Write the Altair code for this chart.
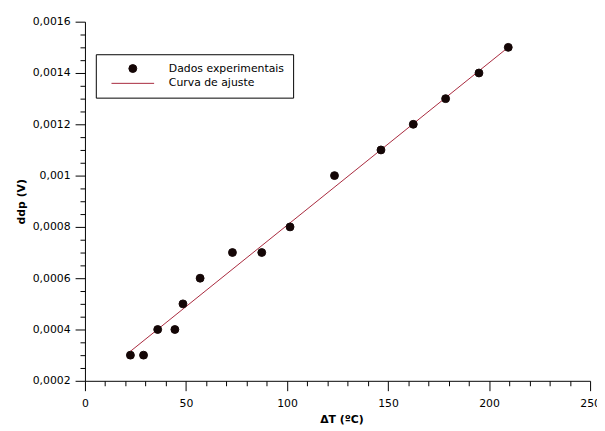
import altair as alt
import pandas as pd

# ---- data ----
delta_t = [22.5, 29, 36, 44.5, 48.5, 57, 73, 87.5, 101.5, 123.5, 146.5, 162.5, 178.5, 195, 209.5]
ddp = [0.0003, 0.0003, 0.0004, 0.0004, 0.0005, 0.0006, 0.0007, 0.0007, 0.0008,
       0.0010, 0.0011, 0.0012, 0.0013, 0.0014, 0.0015]
fit_t = [22.5, 209.5]
fit_ddp = [0.000315, 0.0015]

PTS = "Dados experimentais"
FIT = "Curva de ajuste"
series_names = [PTS, FIT]
series_colors = ["#140606", "#a8283c"]
series_shapes = ["circle", "M-5.4,0H5.4"]

x_major = [0, 50, 100, 150, 200, 250]
x_minor = [10, 20, 30, 40, 60, 70, 80, 90, 110, 120, 130, 140, 160, 170, 180, 190, 210, 220, 230, 240]
y_major = [0.0002, 0.0004, 0.0006, 0.0008, 0.0010, 0.0012, 0.0014, 0.0016]
y_minor = [0.00025, 0.0003, 0.00035, 0.00045, 0.0005, 0.00055, 0.00065, 0.0007, 0.00075,
           0.00085, 0.0009, 0.00095, 0.00105, 0.0011, 0.00115, 0.00125, 0.0013, 0.00135,
           0.00145, 0.0015, 0.00155]

pts = pd.DataFrame({"dT": delta_t, "ddp": ddp, "serie": PTS})
fit = pd.DataFrame({"dT": fit_t, "ddp": fit_ddp, "serie": FIT})

FONT = "DejaVu Sans"
xscale = alt.Scale(domain=[0, 250], nice=False, zero=False)
yscale = alt.Scale(domain=[0.0002, 0.0016], nice=False, zero=False)
cscale = alt.Scale(domain=series_names, range=series_colors)
sscale = alt.Scale(domain=series_names, range=series_shapes)

label_expr = "replace(format(datum.value, '.5~f'), '.', ',')"

tick_style = dict(ticks=True, tickColor="black", tickWidth=1, tickOpacity=1)

x_axis = alt.Axis(values=x_major, orient="bottom", title="ΔT (ºC)", grid=False,
                  domainColor="black", tickSize=10, labelPadding=7,
                  labelFont=FONT, labelFontSize=11, labelColor="black",
                  titleFont=FONT, titleFontSize=11, titleFontWeight="bold", titleColor="black",
                  titleX=260, titleY=39, titleBaseline="middle", labelFlush=False,
                  labelOverlap=False, **tick_style)
y_axis = alt.Axis(values=y_major, orient="left", title="ddp (V)", grid=False,
                  domainColor="black", tickSize=10, labelPadding=5,
                  labelExpr=label_expr, labelFont=FONT, labelFontSize=11, labelColor="black",
                  titleFont=FONT, titleFontSize=11, titleFontWeight="bold", titleColor="black",
                  titleX=-64, titleY=182, titleBaseline="middle", labelOverlap=False,
                  **tick_style)
x_minor_axis = alt.Axis(values=x_minor, orient="bottom", title=None, grid=False, labels=False,
                        domain=False, tickSize=5, **tick_style)
y_minor_axis = alt.Axis(values=y_minor, orient="left", title=None, grid=False, labels=False,
                        domain=False, tickSize=5, **tick_style)

legend = alt.Legend(
    title=None, orient="none", legendX=11, legendY=33,
    strokeColor="black", fillColor="white", padding=9,
    labelFont=FONT, labelFontSize=11, labelColor="black", labelOffset=31,
    symbolOffset=23, symbolSize=64, rowPadding=2, symbolStrokeWidth=1, symbolOpacity=1,
)

minor = alt.Chart(pts).mark_point(opacity=0).encode(
    x=alt.X("dT:Q", scale=xscale, axis=x_minor_axis),
    y=alt.Y("ddp:Q", scale=yscale, axis=y_minor_axis),
)

line = alt.Chart(fit).mark_line(strokeWidth=1).encode(
    x=alt.X("dT:Q", scale=xscale, axis=None),
    y=alt.Y("ddp:Q", scale=yscale, axis=None),
    stroke=alt.Stroke("serie:N", scale=cscale, legend=legend),
)

points = alt.Chart(pts).mark_point(filled=True, size=64, opacity=1, strokeWidth=1).encode(
    x=alt.X("dT:Q", scale=xscale, axis=x_axis),
    y=alt.Y("ddp:Q", scale=yscale, axis=y_axis),
    fill=alt.Fill("serie:N", scale=cscale, legend=legend),
    stroke=alt.Stroke("serie:N", scale=cscale, legend=legend),
    shape=alt.Shape("serie:N", scale=sscale, legend=legend),
)

chart = alt.layer(minor, line, points).resolve_axis(
    x="independent", y="independent"
).properties(
    width=512, height=364,
    autosize=alt.AutoSizeParams(type="none"),
    padding={"left": 78, "top": 11, "right": 7, "bottom": 48},
    background="white",
).configure_view(stroke=None).configure_axis(ticks=True, tickColor="black")

chart.save("out.html", embed_options={"renderer": "svg", "actions": False})
